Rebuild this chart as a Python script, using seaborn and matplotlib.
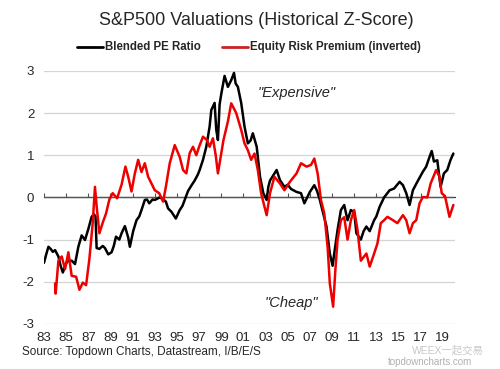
import numpy as np
import pandas as pd
import matplotlib
matplotlib.use("Agg")
import matplotlib.pyplot as plt
import seaborn as sns

# Blended PE Ratio (z-score)
pe_years = [1983.0, 1983.2, 1983.4, 1983.6, 1983.8, 1984.0, 1984.3, 1984.5, 1984.7, 1985.0,
            1985.2, 1985.5, 1985.8, 1986.0, 1986.1, 1986.4, 1986.7, 1987.0, 1987.3, 1987.5,
            1987.65, 1987.75, 1988.0, 1988.3, 1988.5, 1988.8, 1989.1, 1989.3, 1989.5, 1989.8,
            1990.0, 1990.3, 1990.6, 1990.75, 1991.05, 1991.35, 1991.6, 1991.8, 1992.1, 1992.3,
            1992.5, 1992.8, 1993.0, 1993.45, 1993.75, 1994.0, 1994.2, 1994.5, 1994.9, 1995.25,
            1995.5, 1995.7, 1996.0, 1996.3, 1996.6, 1996.9, 1997.05, 1997.35, 1997.65, 1997.95,
            1998.1, 1998.4, 1998.55, 1998.7, 1998.85, 1999.0, 1999.3, 1999.6, 1999.9, 2000.15,
            2000.3, 2000.5, 2000.8, 2001.1, 2001.4, 2001.65, 2001.85, 2002.2, 2002.5, 2002.8,
            2003.1, 2003.25, 2003.4, 2003.8, 2004.0, 2004.3, 2004.7, 2005.0, 2005.3, 2005.8,
            2006.2, 2006.5, 2007.0, 2007.4, 2007.65, 2007.9, 2008.2, 2008.5, 2008.8, 2009.05,
            2009.2, 2009.5, 2009.8, 2010.1, 2010.4, 2010.7, 2011.0, 2011.2, 2011.6, 2011.85,
            2012.1, 2012.4, 2012.8, 2013.0, 2013.3, 2013.7, 2014.2, 2014.6, 2015.1, 2015.4,
            2015.7, 2016.0, 2016.3, 2016.7, 2017.2, 2017.5, 2017.8, 2018.0, 2018.2, 2018.5,
            2018.8, 2019.1, 2019.4, 2019.7, 2019.95]
pe_vals = [-1.55, -1.35, -1.17, -1.22, -1.29, -1.25, -1.40, -1.62, -1.78, -1.56,
           -1.50, -1.50, -1.58, -1.30, -1.17, -0.90, -1.01, -0.75, -0.46, -0.40,
           -0.45, -1.20, -1.22, -1.15, -1.20, -1.35, -1.30, -1.15, -0.93, -1.00,
           -0.85, -0.68, -0.95, -1.17, -0.80, -0.54, -0.45, -0.30, -0.06, -0.05,
           -0.14, -0.05, -0.06, 0.00, -0.04, -0.10, -0.26, -0.34, -0.50, -0.30,
           -0.20, -0.06, 0.15, 0.28, 0.40, 0.55, 0.65, 0.89, 1.20, 1.68,
           2.07, 2.24, 1.60, 1.36, 2.20, 2.45, 2.88, 2.62, 2.78, 2.95,
           2.70, 2.62, 2.24, 1.68, 1.28, 1.35, 1.52, 1.20, 0.49, 0.10,
           -0.06, 0.25, 0.40, 0.57, 0.65, 0.41, 0.25, 0.30, 0.20, 0.13,
           0.10, -0.14, 0.13, 0.29, 0.15, -0.06, -0.38, -0.69, -1.33, -1.62,
           -1.33, -0.77, -0.30, -0.18, -0.54, -0.30, -0.35, -0.85, -1.00, -0.80,
           -0.69, -0.80, -0.54, -0.45, -0.22, 0.00, 0.17, 0.21, 0.37, 0.29,
           0.10, -0.18, 0.17, 0.37, 0.61, 0.73, 0.96, 1.10, 0.85, 0.88,
           0.25, 0.57, 0.65, 0.89, 1.04]

# Equity Risk Premium (inverted, z-score)
erp_years = [1984.0, 1984.05, 1984.3, 1984.6, 1984.9, 1985.2, 1985.5, 1985.9, 1986.2, 1986.5,
             1986.8, 1987.1, 1987.4, 1987.6, 1987.75, 1987.85, 1988.0, 1988.3, 1988.6, 1988.9,
             1989.2, 1989.6, 1990.0, 1990.35, 1990.6, 1990.9, 1991.2, 1991.5, 1991.8, 1992.1,
             1992.4, 1992.7, 1993.0, 1993.4, 1993.75, 1994.0, 1994.35, 1994.8, 1995.25, 1995.55,
             1995.85, 1996.15, 1996.45, 1996.75, 1997.0, 1997.35, 1997.7, 1997.95, 1998.25, 1998.5,
             1998.7, 1999.2, 1999.6, 1999.9, 2000.35, 2000.8, 2001.1, 2001.4, 2001.7, 2002.0,
             2002.3, 2002.6, 2002.9, 2003.1, 2003.4, 2003.8, 2004.3, 2004.7, 2005.2, 2005.8,
             2006.2, 2006.7, 2007.1, 2007.4, 2007.7, 2008.0, 2008.3, 2008.6, 2008.8, 2009.1,
             2009.3, 2009.5, 2009.8, 2010.1, 2010.4, 2010.7, 2011.0, 2011.3, 2011.6, 2012.1,
             2012.4, 2012.8, 2013.1, 2013.4, 2013.7, 2014.0, 2014.5, 2014.9, 2015.4, 2015.7,
             2016.0, 2016.3, 2016.6, 2016.9, 2017.2, 2017.6, 2017.9, 2018.4, 2018.7, 2018.9,
             2019.2, 2019.6, 2019.95]
erp_vals = [-2.04, -2.28, -1.50, -1.40, -1.70, -1.30, -1.86, -1.88, -2.19, -2.02,
            -2.08, -1.45, -0.60, 0.25, -0.20, -0.46, -0.85, -0.60, -0.38, -0.05,
            0.10, -0.02, 0.30, 0.73, 0.49, 0.14, 0.57, 0.89, 0.60, 0.81,
            0.49, 0.33, 0.17, 0.10, -0.10, 0.25, 0.81, 1.24, 0.96, 0.65,
            0.57, 1.05, 1.20, 1.00, 1.20, 1.44, 1.36, 1.20, 1.40, 1.00,
            0.57, 1.36, 1.80, 2.23, 2.00, 1.60, 1.28, 1.12, 0.89, 1.04,
            0.65, 0.10, -0.22, -0.42, 0.10, 0.49, 0.33, 0.17, 0.37, 0.57,
            0.81, 0.73, 0.77, 0.92, 0.57, -0.06, -0.38, -1.17, -2.04, -2.59,
            -1.72, -1.00, -0.54, -0.47, -1.00, -0.54, -0.30, -0.77, -1.50, -1.33,
            -1.64, -1.33, -1.09, -0.61, -0.54, -0.46, -0.54, -0.61, -0.42, -0.54,
            -0.85, -0.61, -0.54, -0.14, 0.01, 0.00, 0.33, 0.65, 0.49, 0.10,
            0.03, -0.46, -0.18]

tick_years = list(range(1983, 2020, 2))
tick_labels = [f"{y % 100:02d}" for y in tick_years]
y_ticks = [-3, -2, -1, 0, 1, 2, 3]

sns.set_style("white")
plt.rcParams['font.family'] = ['Liberation Sans', 'Noto Sans CJK SC', 'DejaVu Sans']

fig = plt.figure(figsize=(5, 3.69), dpi=100)
ax = fig.add_axes([0.088, 0.122, 0.822, 0.686])

for y in y_ticks:
    if y == 0:
        ax.axhline(0, color='#555555', lw=1.0, zorder=1)
    else:
        ax.axhline(y, color='#d4d4d4', lw=0.9, zorder=0)

pe = pd.DataFrame({'year': pe_years, 'z': pe_vals})
erp = pd.DataFrame({'year': erp_years, 'z': erp_vals})
sns.lineplot(data=pe, x='year', y='z', ax=ax, color='black', lw=1.8, zorder=3)
sns.lineplot(data=erp, x='year', y='z', ax=ax, color='#ee0000', lw=1.8, zorder=4)

ax.set_xlim(1983, 2020.1)
ax.set_ylim(-3, 3)
ax.set_xticks(tick_years)
ax.set_xticklabels(tick_labels, fontsize=9.5)
ax.set_yticks(y_ticks)
ax.set_yticklabels([str(v) for v in y_ticks], fontsize=9.5)
ax.tick_params(axis='both', length=0, pad=6)
ax.tick_params(axis='y', pad=7)
ax.set_xlabel('')
ax.set_ylabel('')
for s in ax.spines.values():
    s.set_visible(False)

# small tick marks on the zero line
sec = ax.secondary_xaxis(0.5)
sec.set_xticks(tick_years)
sec.set_xticklabels([])
sec.tick_params(direction='out', length=3, width=0.8, color='#555555')
sec.spines['bottom'].set_visible(False)

ax.text(2002.3, 2.47, '"Expensive"', fontsize=10.5, style='italic', va='center')
ax.text(2002.9, -2.5, '"Cheap"', fontsize=10.5, style='italic', va='center')

fig.text(0.513, 0.945, 'S&P500 Valuations (Historical Z-Score)', ha='center', va='center',
         fontsize=13)

# legend
fig.lines.append(plt.Line2D([0.154, 0.206], [0.873, 0.873], transform=fig.transFigure,
                            color='black', lw=2))
fig.text(0.21, 0.873, 'Blended PE Ratio', fontsize=8.3, fontweight='bold', va='center')
fig.lines.append(plt.Line2D([0.444, 0.496], [0.873, 0.873], transform=fig.transFigure,
                            color='#cc2222', lw=2))
fig.text(0.5, 0.873, 'Equity Risk Premium (inverted)', fontsize=8.3, fontweight='bold',
         va='center')

fig.text(0.044, 0.046, 'Source: Topdown Charts, Datastream, I/B/E/S', fontsize=8.5,
         va='center')
fig.text(0.968, 0.05, 'WEEX一起交易', fontsize=7.5, color='#c8c8c8', ha='right', va='center')
fig.text(0.944, 0.018, 'topdowncharts.com', fontsize=7, color='#b0b0b0', ha='right',
         va='center')

fig.savefig('out.png', dpi=100)
